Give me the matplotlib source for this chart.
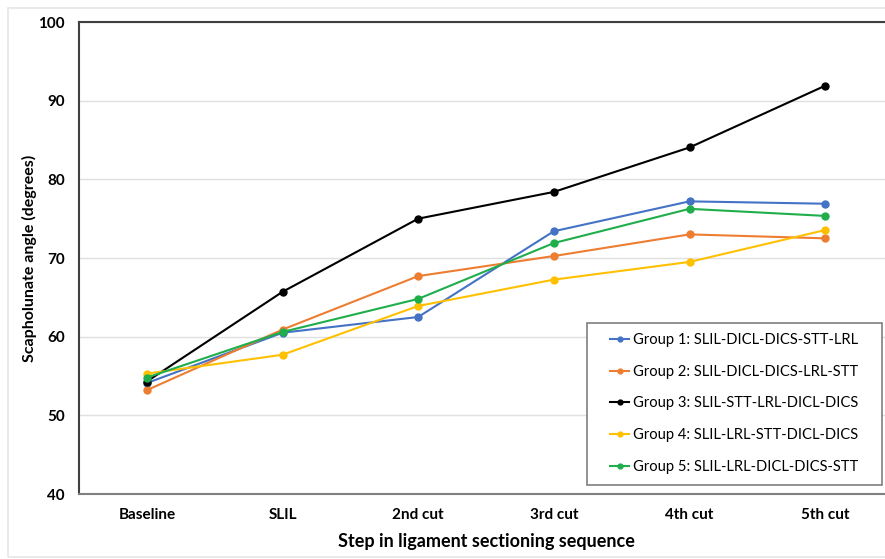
import matplotlib.pyplot as plt
from matplotlib.patches import Rectangle

steps = ["Baseline", "SLIL", "2nd cut", "3rd cut", "4th cut", "5th cut"]
group_labels = [
    "Group 1: SLIL-DICL-DICS-STT-LRL",
    "Group 2: SLIL-DICL-DICS-LRL-STT",
    "Group 3: SLIL-STT-LRL-DICL-DICS",
    "Group 4: SLIL-LRL-STT-DICL-DICS",
    "Group 5: SLIL-LRL-DICL-DICS-STT",
]
group1 = [54.1, 60.5, 62.5, 73.4, 77.2, 76.9]
group2 = [53.2, 60.9, 67.7, 70.25, 73.0, 72.5]
group3 = [54.3, 65.7, 75.0, 78.4, 84.05, 91.9]
group4 = [55.3, 57.7, 63.9, 67.25, 69.5, 73.55]
group5 = [54.8, 60.6, 64.8, 71.9, 76.25, 75.35]
colors = ["#4472c4", "#ed7d31", "#000000", "#ffc000", "#1fae4b"]

plt.rcParams["font.family"] = ["Lato", "DejaVu Sans"]

W, H = 885, 559
fig = plt.figure(figsize=(W / 100, H / 100), dpi=100)
# light outer chart border
fig.patches.append(Rectangle((8 / W, 2 / H), 1, 1 - 10 / H,
                             transform=fig.transFigure, fill=False,
                             edgecolor="#e6e6e6", lw=1.2))
ax = fig.add_axes([79 / W, 65 / H, 814 / W, 472 / H])

x = range(len(steps))
for vals, lab, c in zip([group1, group2, group3, group4, group5],
                        group_labels, colors):
    ax.plot(x, vals, color=c, lw=1.5, marker="o", ms=5, label=lab)

ax.set_xlim(-0.5, len(steps) - 0.5)
ax.set_ylim(40, 100)
ax.set_yticks(range(40, 101, 10))
ax.set_xticks(list(x))
ax.set_xticklabels(steps)
ax.yaxis.grid(True, color="#e0e0e0", lw=1)
ax.set_axisbelow(True)
ax.tick_params(length=0, labelsize=11, pad=10)
for t in ax.get_xticklabels() + ax.get_yticklabels():
    t.set_fontweight("bold")
ax.spines["left"].set_color("#404040")
ax.spines["top"].set_color("#404040")
ax.spines["bottom"].set_color("#808080")
ax.spines["right"].set_visible(False)
for s in ["left", "top", "bottom"]:
    ax.spines[s].set_linewidth(1.5)

ax.set_xlabel("Step in ligament sectioning sequence", fontsize=13,
              fontweight="bold", labelpad=8)
ax.set_ylabel("Scapholunate angle (degrees)", fontsize=11.5,
              fontweight="bold", labelpad=1)

# legend content without frame; frame drawn separately (wider side padding)
ax.legend(loc="upper left", bbox_to_anchor=(610 / W, 1 - 333 / H),
          bbox_transform=fig.transFigure, fontsize=10.6, frameon=False,
          handlelength=1.3, handletextpad=0.25, labelspacing=1.2,
          borderpad=0, borderaxespad=0, markerscale=0.7)
ax.add_patch(Rectangle((587 / W, 1 - 485 / H), 295 / W, 162 / H,
                       transform=fig.transFigure, fill=True,
                       facecolor="white", edgecolor="#7f7f7f",
                       lw=1.2, zorder=4, clip_on=False))

fig.savefig("out.png", dpi=100)
